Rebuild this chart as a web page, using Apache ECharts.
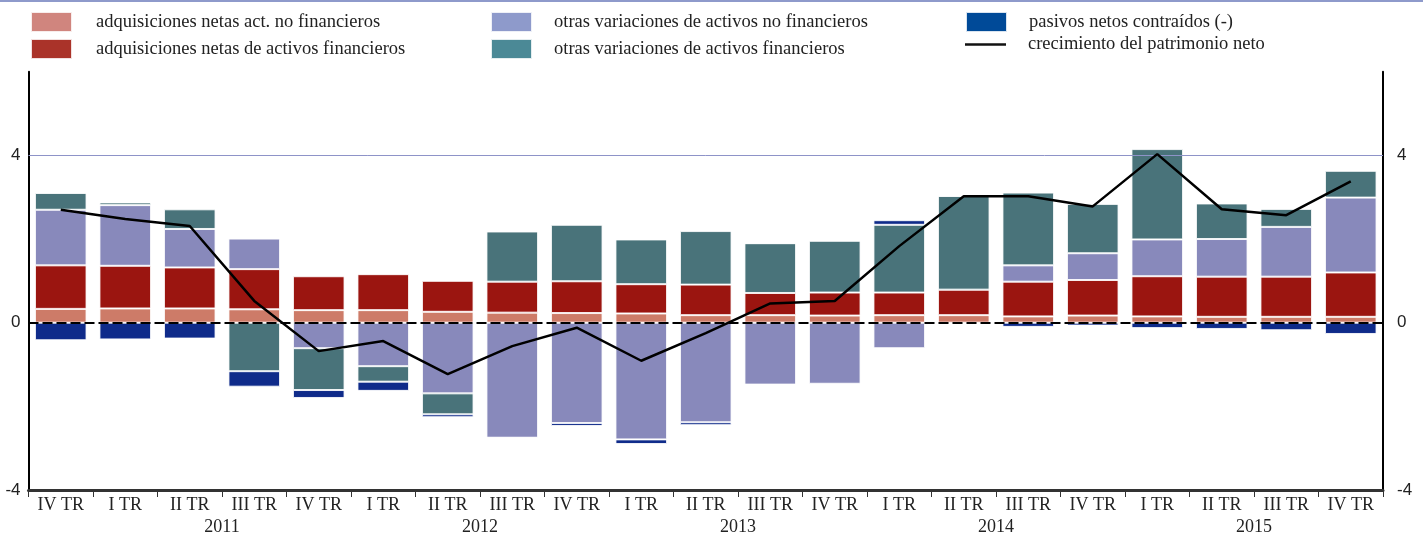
<!DOCTYPE html>
<html>
<head>
<meta charset="utf-8">
<script src="https://cdn.jsdelivr.net/npm/echarts@6/dist/echarts.min.js"></script>
<style>html,body{margin:0;padding:0;background:#fff}#c{width:1423px;height:536px}</style>
</head>
<body>
<div id="c"></div>
<script>
// ---- data ----
const quarters = ['IV TR','I TR','II TR','III TR','IV TR','I TR','II TR','III TR','IV TR','I TR','II TR','III TR','IV TR','I TR','II TR','III TR','IV TR','I TR','II TR','III TR','IV TR'];
// year labels placed at category boundaries (22 boundaries)
const yearBoundaries = ['','','','2011','','','','2012','','','','2013','','','','2014','','','','2015','',''];
const seriesNames = [
  'adquisiciones netas act. no financieros',
  'adquisiciones netas de activos financieros',
  'otras variaciones de activos no financieros',
  'otras variaciones de activos financieros',
  'pasivos netos contraídos (-)',
  'crecimiento del patrimonio neto'
];
const adqNoFin = [0.33,0.34,0.34,0.32,0.30,0.30,0.26,0.24,0.23,0.22,0.18,0.18,0.17,0.18,0.18,0.15,0.17,0.15,0.14,0.14,0.14];
const adqFin   = [1.04,1.02,0.98,0.96,0.81,0.86,0.74,0.74,0.76,0.70,0.73,0.53,0.55,0.54,0.61,0.83,0.85,0.96,0.96,0.96,1.06];
const otrasNoFin = [1.33,1.45,0.92,0.73,-0.61,-1.04,-1.69,-2.75,-2.40,-2.79,-2.38,-1.48,-1.46,-0.61,0,0.39,0.64,0.88,0.90,1.19,1.79];
const otrasFin = [0.40,0.065,0.47,-1.16,-1.00,-0.37,-0.50,1.20,1.35,1.07,1.28,1.19,1.24,1.62,2.24,1.74,1.18,2.16,0.85,0.43,0.64];
const pasivos  = [-0.42,-0.40,-0.38,-0.37,-0.19,-0.22,-0.07,-0.01,-0.07,-0.11,-0.07,0,0,0.11,0,-0.10,-0.07,-0.13,-0.15,-0.18,-0.27];
const patrimonio = [2.70,2.48,2.31,0.52,-0.68,-0.44,-1.23,-0.56,-0.12,-0.91,-0.25,0.46,0.52,1.83,3.02,3.02,2.78,4.03,2.71,2.57,3.38];

const barColors = ['#cd7b68','#9b1510','#8889bb','#49737a','#0f2b8a'];
const legendColors = ['#d0857e','#aa3329','#8e9acb','#4b8996','#004a98'];
const serif = '"Liberation Serif", "DejaVu Serif", serif';
const sans = '"Liberation Sans", Arial, sans-serif';

const chart = echarts.init(document.getElementById('c'), null, {renderer:'canvas'});

const barData = [adqNoFin, adqFin, otrasNoFin, otrasFin, pasivos];
const series = barData.map((d,i)=>({
  name: seriesNames[i],
  type: 'bar',
  stack: 'total',
  data: d,
  barCategoryGap: '20%',
  itemStyle: {color: barColors[i], borderColor: 'rgba(255,255,255,0.85)', borderWidth: 1},
  emphasis: {disabled: true},
  animation: false
}));
series[0].markLine = {
  silent: true, symbol: 'none', animation: false,
  label: {show: false},
  data: [
    {yAxis: 0, lineStyle: {color: '#000', width: 2, type: [10,4]}},
    {yAxis: 4, lineStyle: {color: '#8e93c8', width: 1, type: 'solid'}}
  ]
};
series.push({
  name: seriesNames[5],
  type: 'line',
  data: patrimonio,
  symbol: 'none',
  lineStyle: {color: '#000', width: 2.5},
  itemStyle: {color: '#000'},
  z: 10,
  animation: false
});

const legendText = {fontFamily: serif, fontSize: 18.5, color: '#222', lineHeight: 20, padding:[0,0,0,17]};
const legendBase = {
  orient: 'vertical', itemWidth: 41, itemHeight: 20, itemGap: 5,
  textStyle: legendText,
  selectedMode: false, icon: 'rect', padding: 0
};
const lg = (names, idx) => names.map((n,k)=>({name:n, itemStyle:{color: legendColors[idx[k]]}}));

chart.setOption({
  animation: false,
  grid: {left: 28.5, right: 40, top: 71.7, bottom: 45.3, containLabel: false},
  legend: [
    Object.assign({}, legendBase, {left: 30, top: 11, textStyle: Object.assign({}, legendText, {padding:[0,0,0,19]}),
      data: lg([seriesNames[0], seriesNames[1]],[0,1])}),
    Object.assign({}, legendBase, {left: 490, top: 11, data: lg([seriesNames[2], seriesNames[3]],[2,3])}),
    Object.assign({}, legendBase, {left: 965, top: 11, data: lg([seriesNames[4]],[4])}),
    Object.assign({}, legendBase, {left: 965, top: 34.5, itemWidth: 41, itemHeight: 2.5,
      data: [{name: seriesNames[5], icon: 'rect', itemStyle:{color:'#111'}}]})
  ],
  xAxis: [
    {
      type: 'category', data: quarters, position: 'bottom',
      axisLine: {onZero: false, lineStyle: {color: '#333', width: 3}},
      axisTick: {show: true, interval: 0, length: 7, inside: false, lineStyle: {color: '#333', width: 1}},
      axisLabel: {interval: 0, fontFamily: serif, fontSize: 18, color: '#222', margin: 6},
      splitLine: {show: false}
    },
    {
      type: 'category', data: yearBoundaries, position: 'bottom', boundaryGap: false,
      axisLine: {show: false}, axisTick: {show: false},
      axisLabel: {interval: 0, fontFamily: serif, fontSize: 18, color: '#222', margin: 28},
      splitLine: {show: false}
    }
  ],
  yAxis: [
    {
      type: 'value', min: -4, max: 6, interval: 4, position: 'left',
      axisLine: {show: true, lineStyle: {color: '#000', width: 2}},
      axisTick: {show: false},
      axisLabel: {fontFamily: sans, fontSize: 17, color: '#222', margin: 8,
        formatter: v => (v === 6 ? '' : String(v))},
      splitLine: {show: false}
    },
    {
      type: 'value', min: -4, max: 6, interval: 4, position: 'right',
      axisLine: {show: true, lineStyle: {color: '#000', width: 2}},
      axisTick: {show: false},
      axisLabel: {fontFamily: sans, fontSize: 17, color: '#222', margin: 14,
        formatter: v => (v === 6 ? '' : String(v))},
      splitLine: {show: false}
    }
  ],
  graphic: [
    {type: 'rect', left: 0, top: 0, shape: {width: 1423, height: 2}, style: {fill: '#8e9acb'}, silent: true}
  ],
  series: series
});
</script>
</body>
</html>
